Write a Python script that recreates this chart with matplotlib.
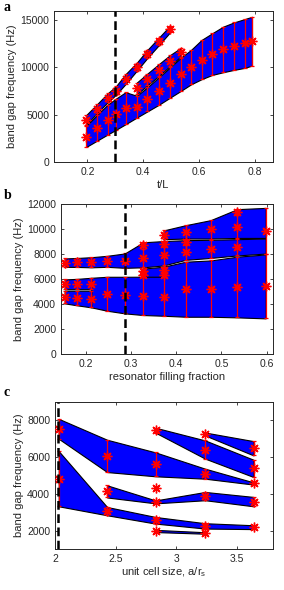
import matplotlib.pyplot as plt
import numpy as np

plt.rcParams['font.family'] = ['Liberation Sans', 'DejaVu Sans']
plt.rcParams['font.size'] = 7.5

# ---- panel a : t/L ----
x_a = [0.195, 0.234, 0.272, 0.302, 0.337, 0.377, 0.415, 0.456, 0.496,
       0.534, 0.571, 0.609, 0.647, 0.686, 0.725, 0.764, 0.790]
# upper thin band (x_a[0:9])
a1_lo = [3950, 5150, 6300, 7100, 8250, 9650, 11000, 12350, 13700]
a1_hi = [4950, 6100, 7250, 8000, 9300, 10500, 11850, 13150, 14400]
# middle band (x_a[5:10])
a2_lo = [7150, 8100, 9100, 10150, 11150]
a2_hi = [8400, 9350, 10350, 11300, 12050]
# wide lower band (all x_a)
a3_lo = [1580, 2250, 2900, 3400, 4000, 4700, 5350, 6050, 6800, 7500,
         8200, 8750, 9200, 9485, 9735, 9950, 10190]
a3_hi = [3800, 4950, 6050, 6700, 7380, 7000, 7900, 8950, 10000, 11000,
         11840, 12900, 13600, 14300, 14750, 15110, 15350]

# ---- panel b : resonator filling fraction ----
x_b = [0.153, 0.181, 0.212, 0.247, 0.286, 0.327, 0.372, 0.421, 0.476, 0.535, 0.598]
b1_lo = [4070, 3910, 3750]
b1_hi = [5080, 5080, 5080]
b2_lo = [5200, 5200, 5200]
b2_hi = [5985, 6030, 6115]
b3_lo = [3750, 3480, 3270, 3136, 3080, 3000, 3000, 2950, 2870]
b3_hi = [6115, 6195, 6195, 6200, 7000, 7400, 7500, 7800, 7980]
b4_lo = [6200, 6200]
b4_hi = [6850, 7000]
b5_lo = [6990, 6980, 6950, 6990, 6910, 6950, 7100, 7550, 7700, 7900, 8050]
b5_hi = [7660, 7700, 7760, 7870, 8060, 8950, 9050, 9120, 9150, 9200, 9250]
b6_lo = [9200, 9250, 9250, 9300, 9300]
b6_hi = [9900, 10320, 10720, 11600, 11700]
# band gaps at each point (error bars)
gb_x = [0.153, 0.153, 0.153, 0.181, 0.181, 0.181, 0.212, 0.212, 0.212,
        0.247, 0.247, 0.286, 0.286,
        0.327, 0.327, 0.327, 0.327, 0.327,
        0.372, 0.372, 0.372, 0.372, 0.372, 0.372,
        0.421, 0.421, 0.421, 0.421,
        0.476, 0.476, 0.476,
        0.535, 0.535, 0.535, 0.535,
        0.598, 0.598]
gb_lo = [4070, 5200, 6990, 3910, 5200, 6980, 3750, 5200, 6950,
         3480, 6990, 3270, 6910,
         3136, 6150, 6450, 6950, 8450,
         3080, 6150, 6450, 7100, 8600, 9200,
         3000, 7550, 8750, 9250,
         3000, 7700, 9250,
         2950, 7900, 9300, 11150,
         2870, 8050]
gb_hi = [5080, 5985, 7660, 5080, 6030, 7700, 5080, 6115, 7760,
         6195, 7870, 6195, 8060,
         6150, 6500, 6850, 8450, 8950,
         6150, 6500, 7000, 8850, 9050, 9900,
         7400, 8850, 9120, 10320,
         7500, 9100, 10720,
         7800, 9200, 11100, 11600,
         7980, 11700]

# ---- panel c : unit cell size ----
x_c = [2.03, 2.43, 2.83, 3.24, 3.64]
c1_lo = [6990, 5180, 4950, 4820, 4500]
c1_hi = [8075, 6937, 6250, 5364, 4620]
c2_lo = [3320, 2832, 2380, 2110, 2080]
c2_hi = [6320, 3282, 2740, 2400, 2290]
c3_lo = [3800, 3480, 3650, 3320]      # x_c[1:]
c3_hi = [4460, 3640, 4100, 3830]
c4_lo = [1920, 1830]                  # x_c[2:4]
c4_hi = [2040, 1910]
c5_lo = [7320, 5910, 4910]            # x_c[2:]
c5_hi = [7590, 6900, 5850]
c6_lo = [7170, 6085]                  # x_c[3:]
c6_hi = [7330, 6862]
c_single_x = [2.83]
c_single_y = [4330]


def band(ax, x, lo, hi):
    ax.fill_between(x, lo, hi, facecolor='#0000ff', edgecolor='k', lw=0.8, zorder=2)


def gaps(ax, x, lo, hi):
    x = np.array(x, float)
    lo = np.array(lo, float)
    hi = np.array(hi, float)
    mid = (lo + hi) / 2
    ax.errorbar(x, mid, yerr=[mid - lo, hi - mid], fmt='none', ecolor='#ff0000',
                elinewidth=0.9, capsize=1.6, capthick=0.9, zorder=3)
    ax.plot(x, mid, ls='none', marker=(8, 2, 0), ms=7, mew=1.0, color='#ff0000', zorder=4)


def style(ax):
    ax.tick_params(direction='in', top=True, right=True, length=2.5, width=0.6,
                   colors='#262626', labelsize=7.5)
    for s in ax.spines.values():
        s.set_linewidth(0.7)
        s.set_color('#262626')


fig = plt.figure(figsize=(2.84, 5.90), dpi=100)
lab_kw = dict(fontsize=8, color='#262626')

# a
ax = fig.add_axes([0.190, 0.7254, 0.771, 0.2566])
band(ax, x_a, a3_lo, a3_hi)
band(ax, x_a[5:10], a2_lo, a2_hi)
band(ax, x_a[:9], a1_lo, a1_hi)
gaps(ax, x_a, a3_lo, a3_hi)
gaps(ax, x_a[5:10], a2_lo, a2_hi)
gaps(ax, x_a[:9], a1_lo, a1_hi)
ax.axvline(0.3, color='k', lw=1.8, ls=(0, (3.5, 1.8)), zorder=5)
ax.set_xlim(0.08, 0.865)
ax.set_ylim(0, 16000)
ax.set_xticks([0.2, 0.4, 0.6, 0.8])
ax.set_yticks([0, 5000, 10000, 15000])
ax.set_xlabel('t/L', labelpad=2, **lab_kw)
ax.set_ylabel('band gap frequency (Hz)', labelpad=2, **lab_kw)
style(ax)

# b
ax = fig.add_axes([0.215, 0.3995, 0.746, 0.2545])
band(ax, x_b[:3], b1_lo, b1_hi)
band(ax, x_b[:3], b2_lo, b2_hi)
band(ax, x_b[2:], b3_lo, b3_hi)
band(ax, x_b[5:7], b4_lo, b4_hi)
band(ax, x_b, b5_lo, b5_hi)
band(ax, x_b[6:], b6_lo, b6_hi)
gaps(ax, gb_x, gb_lo, gb_hi)
ax.axvline(0.286, color='k', lw=1.8, ls=(0, (3.5, 1.8)), zorder=5)
ax.set_xlim(0.145, 0.614)
ax.set_ylim(0, 12000)
ax.set_xticks([0.2, 0.3, 0.4, 0.5, 0.6])
ax.set_yticks(range(0, 12001, 2000))
ax.set_xlabel('resonator filling fraction', labelpad=2, **lab_kw)
ax.set_ylabel('band gap frequency (Hz)', labelpad=2, **lab_kw)
style(ax)

# c
ax = fig.add_axes([0.194, 0.0695, 0.767, 0.2495])
band(ax, x_c, c1_lo, c1_hi)
band(ax, x_c, c2_lo, c2_hi)
band(ax, x_c[1:], c3_lo, c3_hi)
band(ax, x_c[2:4], c4_lo, c4_hi)
band(ax, x_c[2:], c5_lo, c5_hi)
band(ax, x_c[3:], c6_lo, c6_hi)
gaps(ax, x_c, c1_lo, c1_hi)
gaps(ax, x_c, c2_lo, c2_hi)
gaps(ax, x_c[1:], c3_lo, c3_hi)
gaps(ax, x_c[2:4], c4_lo, c4_hi)
gaps(ax, x_c[2:], c5_lo, c5_hi)
gaps(ax, x_c[3:], c6_lo, c6_hi)
gaps(ax, c_single_x, c_single_y, c_single_y)
ax.axvline(2.025, color='k', lw=1.8, ls=(0, (3.5, 1.8)), zorder=5)
ax.set_xlim(2, 3.8)
ax.set_ylim(1000, 9000)
ax.set_xticks([2, 2.5, 3, 3.5])
ax.set_xticklabels(['2', '2.5', '3', '3.5'])
ax.set_yticks([2000, 4000, 6000, 8000])
ax.set_xlabel('unit cell size, a/r$_\\mathregular{s}$', labelpad=1, **lab_kw)
ax.set_ylabel('band gap frequency (Hz)', labelpad=2, **lab_kw)
style(ax)

for lab, yy in [('a', 0.988), ('b', 0.669), ('c', 0.334)]:
    fig.text(0.012, yy, lab, fontsize=10, fontweight='bold', va='center',
             family=['Liberation Serif', 'DejaVu Serif'])

fig.savefig('out.png', dpi=100)
